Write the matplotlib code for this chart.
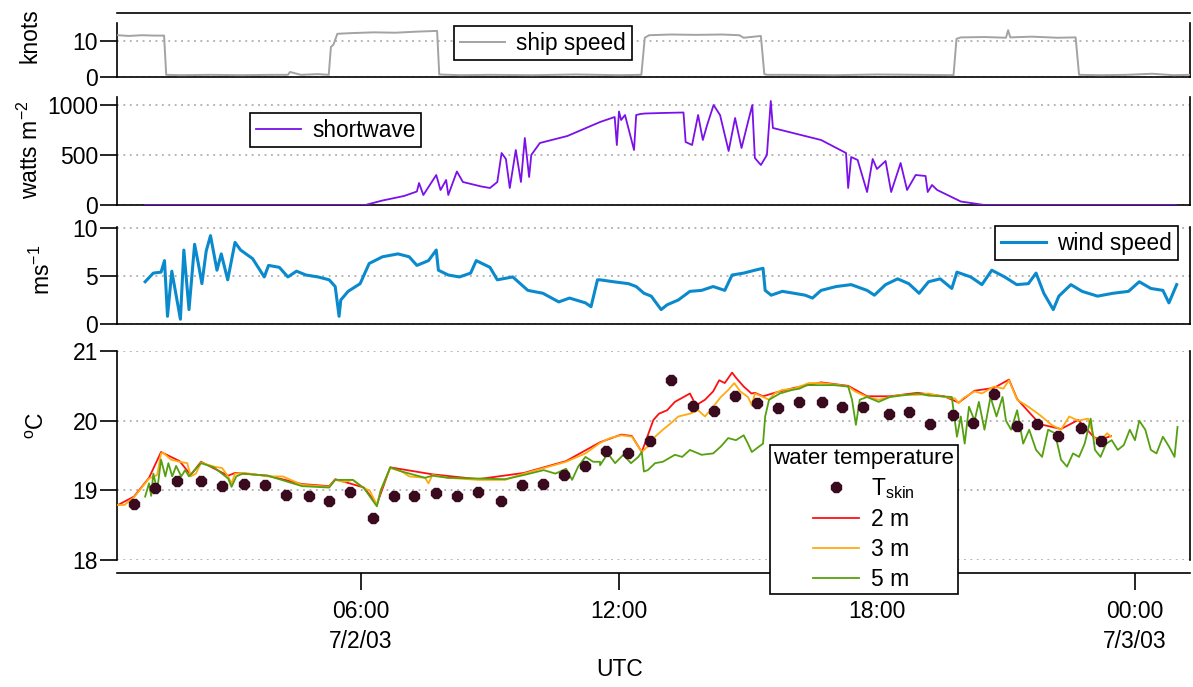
import numpy as np
import matplotlib
matplotlib.use("Agg")
import matplotlib.pyplot as plt

plt.rcParams['font.family'] = ['Liberation Sans', 'DejaVu Sans']
plt.rcParams['mathtext.fontset'] = 'custom'
plt.rcParams['mathtext.rm'] = 'Liberation Sans'
plt.rcParams['mathtext.it'] = 'Liberation Sans:italic'
plt.rcParams['font.size'] = 16

# hours since 7/2/03 00:00 UTC
ship_t = [0.35, 0.6, 0.9, 1.2, 1.42, 1.47, 1.8, 2.5, 3.2, 3.9, 4.3, 4.35, 4.6, 5.0, 5.25,
          5.3, 5.36, 5.45, 5.8, 6.3, 6.8, 7.3, 7.77, 7.82, 8.3, 9.0, 10.0, 11.0, 12.0,
          12.52, 12.6, 12.7, 13.2, 13.8, 14.4, 14.8, 14.9, 15.3, 15.38, 15.45, 16.0, 17.0,
          18.0, 19.0, 19.78, 19.85, 19.95, 20.5, 21.0, 21.05, 21.1, 21.6, 22.2, 22.62,
          22.7, 23.2, 23.8, 24.4, 24.9, 25.28]
ship_v = [11.6, 11.4, 11.6, 11.5, 11.5, 0.6, 0.5, 0.6, 0.5, 0.6, 0.6, 1.4, 0.6, 0.8, 0.6,
          8.3, 9.0, 12.0, 12.2, 12.4, 12.3, 12.6, 12.8, 0.7, 0.5, 0.6, 0.5, 0.7, 0.5,
          0.6, 10.9, 11.6, 11.8, 11.7, 11.8, 11.6, 10.9, 11.4, 0.8, 0.6, 0.6, 0.5,
          0.7, 0.6, 0.5, 10.6, 11.0, 11.1, 10.9, 13.0, 11.0, 11.2, 10.9, 11.0,
          0.6, 0.5, 0.6, 0.9, 0.5, 0.6]

sw_t = [0.98, 3.0, 6.1, 6.5, 7.0, 7.3, 7.35, 7.45, 7.75, 7.85, 7.98, 8.03, 8.23, 8.37,
        8.8, 9.0, 9.17, 9.27, 9.37, 9.46, 9.6, 9.72, 9.81, 9.91, 9.96, 10.16, 10.8, 11.56,
        11.9, 11.95, 12.0, 12.05, 12.14, 12.35, 12.4, 12.5, 12.6, 13.0, 13.5, 13.55,
        13.7, 13.84, 13.95, 14.05, 14.2, 14.35, 14.55, 14.7, 14.85, 15.0, 15.1, 15.16,
        15.3, 15.44, 15.53, 15.58, 16.7, 17.28, 17.33, 17.4, 17.55, 17.77, 17.9, 18.0,
        18.2, 18.33, 18.55, 18.7, 18.9, 19.13, 19.18, 19.28, 19.4, 19.95, 20.5, 24.96]
sw_v = [0, 0, 0, 45, 90, 135, 220, 100, 300, 150, 250, 100, 335, 230,
        185, 170, 230, 520, 460, 170, 550, 230, 670, 280, 500, 620, 690, 830,
        880, 600, 935, 850, 900, 550, 900, 910, 915, 920, 925, 630,
        600, 900, 650, 800, 1000, 900, 540, 870, 570, 830, 1000, 470,
        400, 500, 1040, 770, 650, 520, 170, 480, 450, 130, 460, 360,
        440, 130, 420, 150, 300, 290, 130, 200, 150, 35, 0, 0]

wind_t = [0.98, 1.17, 1.35, 1.43, 1.5, 1.6, 1.72, 1.8, 1.88, 2.0, 2.13, 2.22, 2.3, 2.4,
          2.5, 2.65, 2.75, 2.9, 3.07, 3.2, 3.48, 3.75, 3.85, 4.1, 4.3, 4.5, 4.72, 5.0,
          5.26, 5.4, 5.45, 5.49, 5.53, 5.7, 5.98, 6.19, 6.5, 6.86, 7.12, 7.3, 7.57, 7.75,
          7.8, 8.03, 8.29, 8.55, 8.68, 9.0, 9.17, 9.53, 9.88, 10.23, 10.6, 10.85, 11.22,
          11.35, 11.5, 11.56, 11.87, 12.22, 12.4, 12.58, 12.75, 12.98, 13.12, 13.38, 13.65,
          13.92, 14.19, 14.46, 14.63, 14.9, 15.16, 15.35, 15.4, 15.54, 15.8, 16.07, 16.33,
          16.5, 16.7, 17.05, 17.4, 17.77, 17.94, 18.2, 18.48, 18.74, 18.98, 19.2, 19.47,
          19.74, 19.86, 20.18, 20.44, 20.67, 20.97, 21.25, 21.52, 21.7, 21.88, 22.1, 22.23,
          22.51, 22.77, 23.13, 23.49, 23.85, 24.1, 24.37, 24.65, 24.79, 24.97]
wind_v = [4.4, 5.3, 5.4, 6.6, 0.8, 5.5, 2.5, 0.5, 7.7, 1.5, 8.3, 6.2, 4.2, 7.6,
          9.2, 5.6, 7.3, 4.6, 8.5, 7.7, 6.8, 4.9, 6.1, 5.9, 4.9, 5.5, 5.1, 4.9,
          4.6, 3.9, 2.2, 0.8, 2.5, 3.4, 4.2, 6.3, 7.0, 7.3, 7.0, 6.1, 6.6, 7.7,
          5.6, 5.1, 4.9, 5.3, 6.6, 5.9, 4.6, 4.9, 3.5, 3.2, 2.3, 2.7, 2.2,
          1.8, 4.6, 4.6, 4.4, 4.2, 3.9, 3.2, 2.9, 1.5, 2.0, 2.5, 3.4,
          3.5, 3.9, 3.5, 5.1, 5.3, 5.6, 5.8, 3.5, 3.0, 3.4, 3.2, 3.0,
          2.7, 3.5, 3.9, 4.1, 3.5, 3.0, 4.1, 4.7, 4.2, 3.2, 4.4, 4.7,
          3.7, 5.4, 4.9, 4.1, 5.6, 4.9, 4.1, 4.2, 5.3, 3.2, 1.5, 2.9,
          4.1, 3.4, 2.9, 3.2, 3.4, 4.4, 3.7, 3.5, 2.2, 4.1]

t3_t = [0.35, 0.5, 0.72, 1.07, 1.26, 1.35, 1.4, 1.58, 1.78, 1.96, 2.04, 2.16, 2.28, 2.58,
        2.77, 2.91, 2.99, 3.07, 3.2, 3.3, 3.83, 4.18, 4.63, 5.26, 5.4, 5.6, 5.81, 6.07,
        6.2, 6.37, 6.46, 6.68, 6.95, 7.12, 7.49, 7.57, 7.66, 8.02, 8.72, 9.35, 9.79,
        10.25, 10.77, 11.22, 11.56, 11.79, 12.05, 12.3, 12.53, 12.67, 12.84, 13.02, 13.2,
        13.38, 13.65, 13.84, 14.0, 14.19, 14.37, 14.54, 14.68, 14.82, 15.0, 15.09, 15.16,
        15.35, 15.49, 15.62, 15.79, 16.07, 16.42, 16.7, 17.14, 17.33, 17.49, 17.77, 18.04,
        18.3, 18.57, 18.94, 19.2, 19.56, 19.81, 19.9, 20.0, 20.27, 20.44, 20.72, 20.94,
        21.07, 21.26, 21.52, 21.79, 22.06, 22.28, 22.47, 22.68, 22.91, 23.05, 23.22, 23.35,
        23.44]
t3_v = [18.79, 18.79, 18.9, 19.17, 19.22, 19.53, 19.54, 19.44, 19.41, 19.39, 19.2, 19.24,
        19.4, 19.34, 19.32, 19.2, 19.1, 19.24, 19.24, 19.25, 19.2, 19.2, 19.08, 19.05,
        19.15, 19.12, 19.15, 19.03, 19.0, 18.79, 19.0, 19.32, 19.27, 19.2, 19.18, 19.1,
        19.22, 19.18, 19.15, 19.15, 19.24, 19.32, 19.41, 19.53, 19.68, 19.75, 19.79,
        19.77, 19.55, 19.63, 19.77, 19.87, 19.96, 20.06, 20.1, 20.15, 20.06, 20.2, 20.34,
        20.44, 20.54, 20.42, 20.34, 20.22, 20.39, 20.34, 20.3, 20.39, 20.44, 20.46, 20.54,
        20.54, 20.51, 20.49, 20.42, 20.34, 20.3, 20.34, 20.37, 20.37, 20.39, 20.34, 20.32,
        20.25, 20.32, 20.42, 20.39, 20.49, 20.46, 20.58, 20.3, 20.2, 20.08, 19.94, 19.87,
        20.06, 20.0, 20.03, 19.75, 19.72, 19.82, 19.77]

t2_t = [0.35, 0.72, 1.07, 1.35, 1.78, 2.04, 2.28, 2.91, 3.07, 3.83, 4.63, 5.26, 5.4,
        6.07, 6.37, 6.68, 7.66, 8.72, 9.79, 10.77, 11.56, 12.05, 12.3, 12.53, 12.8,
        12.93, 13.12, 13.3, 13.65, 13.79, 14.0, 14.19, 14.33, 14.46, 14.63, 14.73, 14.9,
        15.08, 15.16, 15.35, 15.62, 16.07, 16.7, 17.33, 17.77, 18.3, 18.94, 19.56, 19.9,
        20.27, 20.72, 21.07, 21.26, 21.79, 22.28, 22.68, 23.05, 23.22, 23.44]
t2_v = [18.79, 18.91, 19.18, 19.55, 19.42, 19.22, 19.41, 19.21, 19.25, 19.21, 19.09, 19.06,
        19.16, 19.04, 18.8, 19.33, 19.23, 19.16, 19.25, 19.42, 19.69, 19.8, 19.78, 19.55,
        20.01, 20.1, 20.15, 20.27, 20.39, 20.22, 20.3, 20.42, 20.58, 20.54, 20.69, 20.61,
        20.49, 20.39, 20.4, 20.35, 20.4, 20.47, 20.55, 20.5, 20.35, 20.35, 20.4, 20.35,
        20.26, 20.43, 20.47, 20.59, 20.31, 19.95, 19.88, 20.01, 19.76, 19.73, 19.78]

t5_t = [0.98, 1.07, 1.12, 1.17, 1.26, 1.35, 1.45, 1.52, 1.61, 1.7, 1.82, 1.91, 2.0, 2.28,
        2.58, 2.91, 2.99, 3.1, 3.25, 3.83, 4.63, 5.26, 5.4, 5.81, 6.07, 6.37, 6.46, 6.68,
        6.95, 7.49, 7.66, 8.02, 9.35, 9.79, 10.25, 10.52, 10.77, 10.91, 11.05, 11.22,
        11.4, 11.56, 11.56, 11.74, 11.91, 12.1, 12.28, 12.45, 12.53, 12.58, 12.67, 12.84,
        13.02, 13.3, 13.47, 13.65, 13.92, 14.19, 14.37, 14.54, 14.72, 14.9, 15.0, 15.09,
        15.26, 15.35, 15.4, 15.49, 15.74, 16.02, 16.2, 16.37, 17.0, 17.33, 17.42, 17.51,
        17.6, 17.77, 18.04, 18.3, 18.94, 19.2, 19.74, 19.86, 19.95, 20.04, 20.14, 20.27,
        20.37, 20.5, 20.64, 20.78, 20.92, 21.0, 21.12, 21.26, 21.4, 21.54, 21.7, 21.84,
        21.98, 22.14, 22.28, 22.42, 22.56, 22.7, 22.83, 22.97, 23.07, 23.2, 23.33, 23.46,
        23.6, 23.74, 23.88, 24.0, 24.1, 24.24, 24.37, 24.5, 24.65, 24.79, 24.92, 24.99]
t5_v = [18.91, 19.1, 18.92, 19.24, 19.0, 19.44, 19.2, 19.39, 19.2, 19.35, 19.2, 19.29,
        19.2, 19.39, 19.33, 19.17, 19.05, 19.2, 19.24, 19.21, 19.06, 19.04, 19.15, 19.15,
        19.03, 18.77, 19.0, 19.33, 19.27, 19.18, 19.21, 19.18, 19.16, 19.22, 19.29, 19.24,
        19.31, 19.15, 19.34, 19.48, 19.41, 19.41, 19.36, 19.53, 19.39, 19.51, 19.39, 19.48,
        19.55, 19.27, 19.29, 19.39, 19.41, 19.51, 19.48, 19.58, 19.51, 19.53, 19.63, 19.75,
        19.72, 19.79, 19.67, 19.55, 19.63, 19.67, 20.06, 20.3, 20.39, 20.44, 20.46, 20.51,
        20.51, 20.49, 20.3, 19.94, 20.3, 20.34, 20.27, 20.34, 20.39, 20.36, 20.34, 19.77,
        20.06, 19.67, 20.2, 20.0, 20.27, 19.87, 20.34, 20.06, 20.34, 20.0, 19.87, 20.15,
        19.67, 19.87, 19.58, 19.48, 19.87, 19.82, 19.44, 19.34, 19.53, 19.48, 19.67, 20.03,
        19.58, 19.48, 19.67, 19.72, 19.58, 19.65, 19.87, 19.72, 20.0, 19.87, 19.58, 19.53,
        19.77, 19.63, 19.48, 19.91]

skin_t = [0.72, 1.21, 1.72, 2.28, 2.77, 3.28, 3.77, 4.26, 4.78, 5.26, 5.74, 6.27, 6.76,
          7.24, 7.75, 8.24, 8.73, 9.25, 9.74, 10.23, 10.73, 11.22, 11.7, 12.22, 12.71,
          13.2, 13.72, 14.21, 14.7, 15.2, 15.69, 16.19, 16.71, 17.19, 17.67, 18.28, 18.75,
          19.23, 19.76, 20.24, 20.73, 21.25, 21.72, 22.22, 22.74, 23.22]
skin_v = [18.81, 19.03, 19.13, 19.13, 19.06, 19.09, 19.07, 18.94, 18.92, 18.85, 18.97,
          18.61, 18.92, 18.92, 18.96, 18.92, 18.98, 18.85, 19.07, 19.09, 19.22, 19.35,
          19.56, 19.54, 19.71, 20.58, 20.21, 20.14, 20.36, 20.26, 20.18, 20.27, 20.27,
          20.19, 20.19, 20.1, 20.12, 19.95, 20.08, 19.97, 20.38, 19.92, 19.95, 19.78, 19.9,
          19.71]

tick_hours = [6, 12, 18, 24]
tick_labels = ['06:00\n7/2/03', '12:00', '18:00', '00:00\n7/3/03']

W, H = 1193, 687
FS = 16
fig = plt.figure(figsize=(W / 100, H / 100), dpi=100)


def rect(top, bottom):
    # pixel rows -> figure fraction
    return [117.5 / W, 1 - bottom / H, (1190 - 117.5) / W, (bottom - top) / H]


ax1 = fig.add_axes(rect(12.9, 77))
ax2 = fig.add_axes(rect(97.5, 205))
ax3 = fig.add_axes(rect(227, 324))
ax4 = fig.add_axes(rect(351, 560))

for ax in (ax1, ax2, ax3, ax4):
    ax.set_xlim(0.337, 25.28)
    ax.spines['top'].set_visible(False)
    for s in ax.spines.values():
        s.set_linewidth(1.2)
    ax.tick_params(axis='y', direction='out', length=12, width=1.2, pad=2, labelsize=FS + 0.5)
    ax.yaxis.grid(True, linestyle=(0, (1.2, 3)), color='#a0a0a0', linewidth=1.1)
    ax.set_axisbelow(True)
    ax.tick_params(axis='x', bottom=False, labelbottom=False)

gray = '#a3a3a3'
ax1.plot(ship_t, ship_v, color=gray, lw=1.4, label='ship speed', zorder=3)
ax1.set_ylim(0, 17.8)
ax1.set_yticks([0, 10])
ax1.spines['top'].set_visible(True)
ax1.spines['left'].set_bounds(0, 15)
ax1.spines['right'].set_bounds(0, 15)

ax2.plot(sw_t, sw_v, color='#7a10ea', lw=1.3, label='shortwave', zorder=3)
ax2.set_ylim(0, 1075)
ax2.set_yticks([0, 500, 1000])

ax3.plot(wind_t, wind_v, color='#0a8acd', lw=2.2, label='wind speed', zorder=3)
ax3.set_ylim(0, 10.1)
ax3.set_yticks([0, 5, 10])

l2, = ax4.plot(t2_t, t2_v, color='#ff1010', lw=1.3, label='2 m', zorder=3)
l3, = ax4.plot(t3_t, t3_v, color='#ffaa10', lw=1.3, label='3 m', zorder=3)
l5, = ax4.plot(t5_t, t5_v, color='#55a010', lw=1.3, label='5 m', zorder=3)
sk, = ax4.plot(skin_t, skin_v, ls='none', marker='8', ms=8, color='#3a0a1e',
               label='T$_{\\rm skin}$', zorder=4)
ax4.set_ylim(18, 21)
ax4.set_yticks([18, 19, 20, 21])
ax4.spines['bottom'].set_position(('outward', 9))
ax4.tick_params(axis='x', bottom=True, labelbottom=True, direction='out',
                length=12, width=1.2, pad=8, labelsize=FS + 0.5)
ax4.set_xticks(tick_hours)
ax4.set_xticklabels(tick_labels, linespacing=1.35)

leg_kw = dict(frameon=True, fancybox=False, framealpha=1, edgecolor='black',
              borderpad=0.25, borderaxespad=0, handlelength=2.0, handletextpad=0.5,
              fontsize=FS + 0.3, bbox_transform=fig.transFigure, loc='upper left')
lg = ax1.legend(bbox_to_anchor=(454 / W, 1 - 26 / H), **leg_kw)
lg.get_frame().set_linewidth(1.2)
lg = ax2.legend(bbox_to_anchor=(250 / W, 1 - 113 / H), **leg_kw)
lg.get_frame().set_linewidth(1.2)
lg = ax3.legend(bbox_to_anchor=(995 / W, 1 - 226 / H), **leg_kw)
lg.get_frame().set_linewidth(1.2)
lg = ax4.legend(handles=[sk, l2, l3, l5], title='water temperature',
                labelspacing=0.3, title_fontsize=FS,
                **dict(leg_kw, bbox_to_anchor=(770 / W, 1 - 445 / H), borderpad=0.15,
                       fontsize=FS + 0.5))
lg.get_frame().set_linewidth(1.2)
lg.set_zorder(10)

fig.text(30 / W, 1 - 36 / H, 'knots', rotation=90, ha='center', va='center', fontsize=FS + 0.5)
fig.text(30 / W, 1 - 150 / H, 'watts m$^{-2}$', rotation=90, ha='center', va='center',
         fontsize=FS + 0.5)
fig.text(42 / W, 1 - 270 / H, 'ms$^{-1}$', rotation=90, ha='center', va='center',
         fontsize=FS + 0.5)
fig.text(38 / W, 1 - 425 / H, '$^{\\rm o}$C', rotation=90, ha='center', va='center',
         fontsize=FS + 0.5)
fig.text(620 / W, 1 - 670 / H, 'UTC', ha='center', va='center', fontsize=FS + 0.5)

fig.savefig('out.png', dpi=100)
